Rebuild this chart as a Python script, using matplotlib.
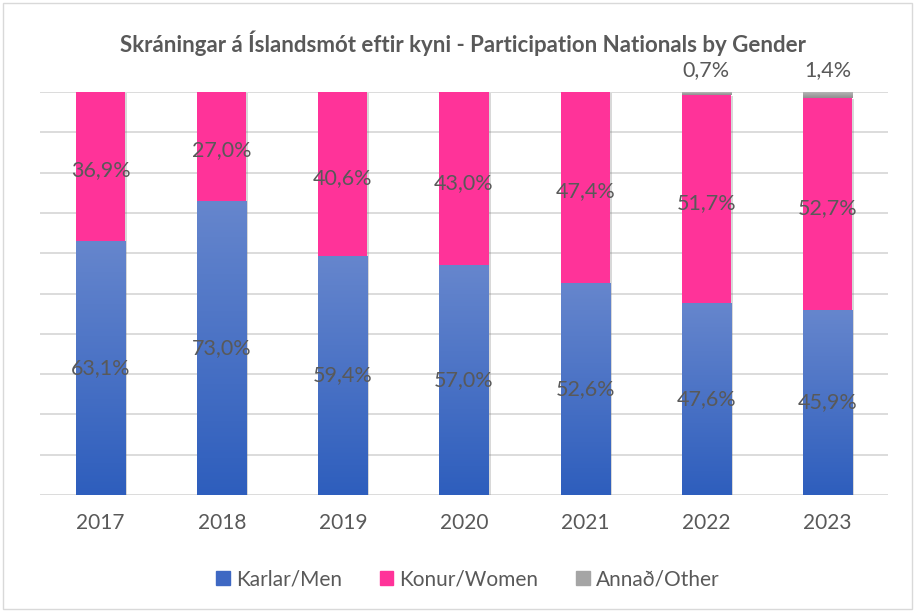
import numpy as np
import matplotlib
matplotlib.use("Agg")
import matplotlib.pyplot as plt
from matplotlib import patheffects as pe
from matplotlib.colors import LinearSegmentedColormap

plt.rcParams['font.family'] = ['Lato', 'DejaVu Sans']

years = ['2017', '2018', '2019', '2020', '2021', '2022', '2023']
men = [63.1, 73.0, 59.4, 57.0, 52.6, 47.6, 45.9]
women = [36.9, 27.0, 40.6, 43.0, 47.4, 51.7, 52.7]
other = [0, 0, 0, 0, 0, 0.7, 1.4]
series_names = ['Karlar/Men', 'Konur/Women', 'Annað/Other']

txt = '#595959'
blue_cmap = LinearSegmentedColormap.from_list('b', ['#2E5EBD', '#6686CD'])
grey_cmap = LinearSegmentedColormap.from_list('g', ['#8F8F8F', '#B5B5B5'])

fig = plt.figure(figsize=(9.15, 6.11), dpi=100)
ax = fig.add_axes([40 / 915, 1 - 495 / 611, 848 / 915, 403 / 611])

x = np.arange(len(years))
w = 0.405
shadow = [pe.SimplePatchShadow(offset=(1.5, -1), shadow_rgbFace='#7F7F7F', alpha=0.3), pe.Normal()]

bars_m = ax.bar(x, men, w, color='#4A72C6', zorder=3, path_effects=shadow)
bars_w = ax.bar(x, women, w, bottom=men, color='#FF3399', zorder=3, path_effects=shadow)
bottom_o = np.array(men) + np.array(women)
bars_o = ax.bar(x, other, w, bottom=bottom_o, color='#A5A5A5', zorder=3)

# gradient fill for the blue and grey bars
grad = np.linspace(0, 1, 256).reshape(-1, 1)
for bars, cmap in [(bars_m, blue_cmap), (bars_o, grey_cmap)]:
    for b in bars:
        if b.get_height() <= 0:
            continue
        x0, y0 = b.get_x(), b.get_y()
        im = ax.imshow(grad, cmap=cmap, origin='lower', aspect='auto',
                       extent=[x0, x0 + b.get_width(), y0, y0 + b.get_height()], zorder=3.5)
        im.set_clip_path(b)

ax.set_xlim(-0.5, len(years) - 0.5)
ax.set_ylim(0, 100)
ax.set_yticks(np.arange(0, 101, 10))
ax.set_yticklabels([])
ax.tick_params(axis='y', length=0)
ax.tick_params(axis='x', length=0, pad=13, labelsize=15, labelcolor=txt)
ax.set_xticks(x)
ax.set_xticklabels(years)
ax.grid(axis='y', color='#D9D9D9', linewidth=1.3, zorder=0)
for s in ax.spines.values():
    s.set_visible(False)

def fmt(v):
    return f'{v:.1f}%'.replace('.', ',')

fs = 15.5
for i in range(len(years)):
    ax.text(x[i], men[i] / 2, fmt(men[i]), ha='center', va='center', fontsize=fs, color=txt, zorder=5)
    ax.text(x[i], men[i] + women[i] / 2 - 1, fmt(women[i]), ha='center', va='center', fontsize=fs, color=txt, zorder=5)
    if other[i] > 0:
        ax.text(x[i], 105.5, fmt(other[i]), ha='center', va='center', fontsize=fs, color=txt, zorder=5, clip_on=False)

fig.text(463 / 915, 1 - 43 / 611, 'Skráningar á Íslandsmót eftir kyni - Participation Nationals by Gender',
         ha='center', va='center', fontsize=16, fontweight='bold', color=txt)

handles = [plt.Rectangle((0, 0), 1, 1, color=c) for c in ['#3E68C3', '#FF3399', '#A5A5A5']]
fig.legend(handles, series_names, loc='center', bbox_to_anchor=(468 / 915, 1 - 579 / 611), ncol=3,
           frameon=False, fontsize=15, labelcolor=txt, handlelength=0.65, handleheight=0.65,
           handletextpad=0.3, columnspacing=1.8)

border = plt.Rectangle((3 / 915, 2 / 611), 909 / 915, 606 / 611, transform=fig.transFigure,
                       fill=False, edgecolor='#D9D9D9', linewidth=1)
fig.add_artist(border)

fig.savefig('out.png', dpi=100)
